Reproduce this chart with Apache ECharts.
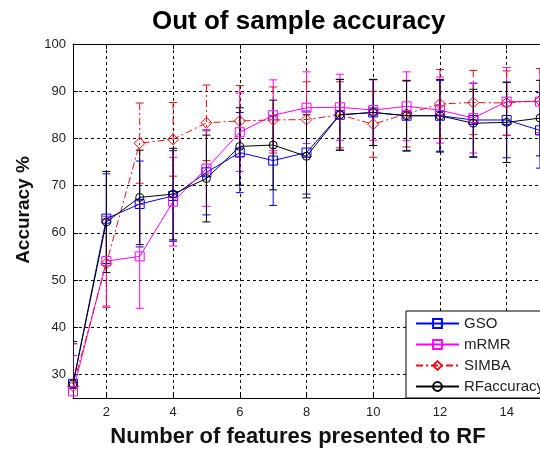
<!DOCTYPE html>
<html>
<head>
<meta charset="utf-8">
<script src="https://cdn.jsdelivr.net/npm/echarts@6/dist/echarts.min.js"></script>
<style>html,body{margin:0;padding:0;background:#fff;}#chart{width:540px;height:452px;}</style>
</head>
<body>
<div id="chart"></div>
<script>
const xValues = [1, 2, 3, 4, 5, 6, 7, 8, 9, 10, 11, 12, 13, 14, 15];
const xTicks = [2, 4, 6, 8, 10, 12, 14];
const yTicks = [30, 40, 50, 60, 70, 80, 90, 100];
const seriesNames = ['GSO', 'mRMR', 'SIMBA', 'RFaccuracy'];

const gsoMean = [28.0, 63.0, 66.1, 67.8, 72.8, 77.0, 75.3, 77.0, 85.0, 85.5, 84.8, 84.8, 83.9, 83.9, 81.7];
const gsoErr  = [8.5, 9.5, 9.1, 9.6, 9.0, 8.5, 9.5, 8.8, 7.5, 7.0, 7.5, 7.5, 7.8, 8.0, 8.0];

const mrmrMean = [26.4, 54.0, 55.0, 66.6, 73.6, 81.3, 84.9, 86.5, 86.6, 86.0, 86.8, 86.0, 84.3, 87.8, 87.8];
const mrmrErr  = [7.6, 9.5, 11.0, 9.4, 8.0, 8.3, 7.5, 7.6, 7.0, 6.4, 7.3, 7.0, 7.4, 7.2, 7.0];

const simbaMean = [27.5, 53.5, 79.0, 79.8, 83.3, 83.7, 83.9, 84.0, 85.0, 83.0, 85.2, 87.3, 87.6, 87.5, 88.0];
const simbaErr  = [9.0, 9.3, 8.5, 7.8, 8.0, 7.5, 7.0, 8.0, 7.0, 7.0, 7.0, 7.3, 6.8, 6.8, 6.8];

const rfMean = [28.0, 62.3, 67.5, 68.2, 71.5, 78.3, 78.6, 76.2, 85.0, 85.5, 84.8, 84.8, 83.2, 83.4, 84.3];
const rfErr  = [9.0, 10.7, 10.0, 9.7, 9.2, 8.2, 9.5, 8.8, 7.5, 7.0, 7.4, 7.7, 7.2, 8.5, 8.0];

const FONT = '"Liberation Sans", Arial, sans-serif';

function pts(mean) { return xValues.map((x, i) => [x, mean[i]]); }
function errData(mean, err) { return xValues.map((x, i) => [x, mean[i] - err[i], mean[i] + err[i]]); }

function errRender(color, dash) {
  return function (params, api) {
    const x = api.value(0), lo = api.value(1), hi = api.value(2);
    const p1 = api.coord([x, hi]);
    const p2 = api.coord([x, lo]);
    const w = 4;
    const style = { stroke: color, lineWidth: 1, lineDash: dash || null, fill: null };
    return {
      type: 'group',
      children: [
        { type: 'line', shape: { x1: p1[0], y1: p1[1], x2: p2[0], y2: p2[1] }, style: style },
        { type: 'line', shape: { x1: p1[0] - w, y1: p1[1], x2: p1[0] + w, y2: p1[1] }, style: { stroke: color, lineWidth: 1 } },
        { type: 'line', shape: { x1: p2[0] - w, y1: p2[1], x2: p2[0] + w, y2: p2[1] }, style: { stroke: color, lineWidth: 1 } }
      ]
    };
  };
}

const styles = [
  { name: 'GSO', mean: gsoMean, err: gsoErr, color: '#0000ff', symbol: 'rect', size: 9, type: 'solid', dash: null },
  { name: 'mRMR', mean: mrmrMean, err: mrmrErr, color: '#ff00ff', symbol: 'rect', size: 9, type: 'solid', dash: null },
  { name: 'SIMBA', mean: simbaMean, err: simbaErr, color: '#e8101a', symbol: 'diamond', size: 11, type: [7, 3, 2, 3], dash: [7, 3, 2, 3] },
  { name: 'RFaccuracy', mean: rfMean, err: rfErr, color: '#000000', symbol: 'circle', size: 8, type: 'solid', dash: null }
];

const series = [];
styles.forEach(s => {
  series.push({
    name: s.name + ' error',
    type: 'custom',
    renderItem: errRender(s.color, s.dash),
    data: errData(s.mean, s.err),
    encode: { x: 0, y: [1, 2] },
    clip: true,
    silent: true,
    z: 2
  });
  series.push({
    name: s.name,
    type: 'line',
    data: pts(s.mean),
    symbol: s.symbol,
    symbolSize: s.size,
    showAllSymbol: true,
    clip: true,
    lineStyle: { color: s.color, width: 1, type: s.type },
    itemStyle: { color: 'rgba(255,255,255,0)', borderColor: s.color, borderWidth: 1 },
    emphasis: { disabled: true },
    z: 3
  });
});

const chart = echarts.init(document.getElementById('chart'), null, { renderer: 'canvas' });
chart.setOption({
  animation: false,
  backgroundColor: '#ffffff',
  title: {
    text: 'Out of sample accuracy',
    left: 147,
    top: 4,
    textStyle: { fontFamily: FONT, fontSize: 26, fontWeight: 'bold', color: '#000' }
  },
  grid: { left: 73, right: -6, top: 44, bottom: 54, containLabel: false },
  legend: {
    data: seriesNames,
    orient: 'vertical',
    left: 406,
    top: 311,
    itemWidth: 43,
    itemHeight: 11,
    itemGap: 6,
    padding: [5, 8, 4, 9],
    backgroundColor: '#ffffff',
    borderColor: '#000000',
    borderWidth: 1,
    borderRadius: 0,
    textStyle: { fontFamily: FONT, fontSize: 15, color: '#222' },
    selectedMode: false
  },
  xAxis: [
    {
      type: 'value', min: 1, max: 15, position: 'bottom',
      axisLine: { show: true, lineStyle: { color: '#000', width: 1 } },
      axisTick: { show: true, inside: true, length: 5, customValues: xTicks, lineStyle: { color: '#000' } },
      axisLabel: { show: true, customValues: xTicks, margin: 8, fontFamily: FONT, fontSize: 13, color: '#222' },
      splitLine: { show: true, lineStyle: { color: '#000', width: 1, type: [3, 3] } }
    },
    {
      type: 'value', min: 1, max: 15, position: 'top',
      axisLine: { show: true, lineStyle: { color: '#000', width: 1 } },
      axisTick: { show: true, inside: true, length: 5, customValues: xTicks, lineStyle: { color: '#000' } },
      axisLabel: { show: false },
      splitLine: { show: false }
    }
  ],
  yAxis: [
    {
      type: 'value', min: 25, max: 100,
      axisLine: { show: true, lineStyle: { color: '#000', width: 1 } },
      axisTick: { show: true, inside: true, length: 5, customValues: yTicks, lineStyle: { color: '#000' } },
      axisLabel: { show: true, customValues: yTicks, margin: 7, fontFamily: FONT, fontSize: 13, color: '#222' },
      splitLine: { show: true, lineStyle: { color: '#000', width: 1, type: [3, 3] } }
    }
  ],
  graphic: [
    {
      type: 'text', x: 298, y: 437,
      style: { text: 'Number of features presented to RF', fontFamily: FONT, fontSize: 22, fontWeight: 'bold', fill: '#111', align: 'center', verticalAlign: 'middle' }
    },
    {
      type: 'text', x: 24, y: 210, rotation: Math.PI / 2,
      style: { text: 'Accuracy %', fontFamily: FONT, fontSize: 19, fontWeight: 'bold', fill: '#111', align: 'center', verticalAlign: 'middle' }
    }
  ],
  series: series
});
</script>
</body>
</html>
